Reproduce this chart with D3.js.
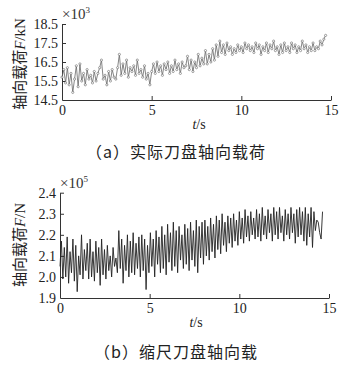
<!DOCTYPE html>
<html><head><meta charset="utf-8">
<script src="https://cdn.jsdelivr.net/npm/d3@7"></script>
<style>
html,body{margin:0;padding:0;background:#fff;}
svg{display:block;}
</style></head>
<body>
<svg id="c" width="347" height="365"></svg>
<script>
// ---- data ----
const xTicks = [0, 5, 10, 15];
const topYTicks = [14.5, 15.5, 16.5, 17.5, 18.5];
const botYTicks = [1.9, 2.0, 2.1, 2.2, 2.3, 2.4];
const topStep = 0.1;   // s between samples (a)
const botStep = 0.08;  // s between samples (b)
const topValues = [
 15.7,16.1,15.4,16.2,15.3,15.9,14.9,15.6,16.3,15.2,
 16.4,15.5,15.9,15.3,16.1,15.6,15.8,15.4,16.0,15.5,
 15.9,16.2,16.6,15.6,15.8,15.3,16.0,15.5,16.1,15.7,
 15.6,16.2,16.9,15.8,16.4,15.9,16.6,15.7,16.2,16.0,
 16.3,15.8,16.6,15.9,16.1,15.7,16.3,15.6,15.9,15.3,
 16.0,16.4,15.9,16.5,16.0,16.3,15.8,16.4,16.1,16.5,
 15.9,16.3,16.0,16.6,16.1,16.4,15.9,16.5,16.2,16.3,
 16.8,16.1,16.6,16.0,16.5,16.2,16.9,16.3,16.7,16.4,
 17.1,16.4,16.9,16.5,17.2,16.6,17.4,16.8,17.6,17.0,
 17.4,16.9,17.5,17.1,17.3,16.9,17.2,17.0,17.4,17.1,
 17.3,17.0,17.5,17.2,17.4,17.1,17.3,17.0,17.5,17.2,
 17.4,16.9,17.3,17.1,17.5,17.0,17.4,17.2,17.6,17.1,
 17.3,16.9,17.4,17.0,17.5,17.1,17.3,17.0,17.5,17.2,
 17.4,17.0,17.3,17.1,17.6,17.2,17.4,17.0,17.3,17.1,
 17.5,17.1,17.3,17.2,17.6,17.4,17.7,17.9
];
const botValues = [
 2.05,2.17,1.99,2.14,2.00,2.19,1.97,2.12,2.02,2.18,
 1.98,2.15,1.93,2.10,2.01,2.20,1.99,2.13,2.03,2.16,
 1.99,2.18,2.00,2.12,1.98,2.17,2.02,2.14,1.96,2.18,
 2.01,2.13,1.99,2.15,2.03,2.10,2.00,2.14,2.05,2.09,
 2.02,2.22,2.04,2.18,1.97,2.15,2.03,2.20,2.00,2.17,
 2.02,2.21,2.01,2.16,2.04,2.19,2.00,2.20,2.03,2.18,
 1.94,2.15,2.02,2.21,2.05,2.18,2.00,2.22,2.06,2.19,
 2.02,2.24,2.04,2.20,2.01,2.25,2.07,2.21,2.03,2.26,
 2.05,2.22,2.02,2.24,2.08,2.20,2.04,2.25,2.06,2.23,
 2.03,2.26,2.08,2.22,2.05,2.27,2.02,2.24,2.09,2.26,
 2.06,2.27,2.10,2.24,2.08,2.28,2.12,2.25,2.09,2.29,
 2.13,2.27,2.11,2.30,2.15,2.26,2.12,2.29,2.16,2.28,
 2.14,2.30,2.17,2.27,2.15,2.31,2.18,2.28,2.16,2.32,
 2.19,2.29,2.17,2.31,2.20,2.28,2.18,2.32,2.19,2.30,
 2.17,2.33,2.20,2.29,2.18,2.32,2.21,2.30,2.17,2.33,
 2.20,2.31,2.18,2.33,2.21,2.29,2.17,2.32,2.20,2.30,
 2.18,2.33,2.21,2.30,2.16,2.32,2.19,2.33,2.20,2.31,
 2.17,2.33,2.15,2.30,2.19,2.33,2.14,2.31,2.22,2.27,
 2.26,2.21,2.18,2.31
];

const svg = d3.select("#c");
const serif = "'Liberation Serif','DejaVu Serif',serif";
const cjk = "'Noto Sans CJK SC','Noto Sans',sans-serif";
const axisColor = "#333";

function panel(o){
  const x = d3.scaleLinear().domain([0,15]).range([o.x0,o.x1]);
  const y = d3.scaleLinear().domain(o.yDomain).range([o.y0,o.y1]);
  const g = svg.append("g");
  // x axis
  const xa = g.append("g").attr("transform",`translate(0,${o.y0})`)
    .call(d3.axisBottom(x).tickValues(xTicks).tickSizeInner(-4).tickSizeOuter(0).tickPadding(5).tickFormat(d3.format("d")));
  // y axis
  const ya = g.append("g").attr("transform",`translate(${o.x0},0)`)
    .call(d3.axisLeft(y).tickValues(o.yTicks).tickSizeInner(-4).tickSizeOuter(0).tickPadding(4).tickFormat(d3.format(".1f")));
  [xa,ya].forEach(a=>{
    a.select(".domain").attr("stroke",axisColor).attr("stroke-width",1);
    a.selectAll(".tick line").attr("stroke",axisColor);
    a.selectAll(".tick text").attr("fill","#222").style("font-family",serif).style("font-size","14px");
  });
  xa.selectAll(".tick").filter(d=>d===0).select("line").remove();
  ya.selectAll(".tick").filter(d=>d===o.yDomain[0]).select("line").remove();
  // data line
  const line = d3.line().x((d,i)=>x(i*o.step)).y(d=>y(d));
  g.append("path").datum(o.values).attr("fill","none")
    .attr("stroke",o.color).attr("stroke-width",o.sw).attr("stroke-linejoin","round").attr("d",line);
  if(o.markers){
    g.selectAll("circle.m").data(o.values).enter().append("circle")
      .attr("cx",(d,i)=>x(i*o.step)).attr("cy",d=>y(d)).attr("r",1.1)
      .attr("fill","#fff").attr("stroke",o.color).attr("stroke-width",0.6);
  }
  // exponent label
  const ex = g.append("text").attr("x",o.x0).attr("y",o.y1-5)
    .style("font-family",serif).style("font-size","15px").attr("fill","#333");
  ex.append("tspan").text("×10");
  ex.append("tspan").attr("dy",-6).style("font-size","9px").text(o.exp);
  // y title
  const yt = g.append("text").attr("transform",`translate(${o.ytx},${o.yty}) rotate(-90)`)
    .attr("text-anchor","middle").attr("fill","#222").style("font-size","15px");
  yt.append("tspan").style("font-family",cjk).text("轴向载荷");
  yt.append("tspan").style("font-family",serif).style("font-style","italic").text("F");
  yt.append("tspan").style("font-family",serif).text(o.unit);
  // x title
  const xt = g.append("text").attr("x",o.xtx).attr("y",o.xty).attr("text-anchor","middle")
    .attr("fill","#222").style("font-family",serif).style("font-size","14px");
  xt.append("tspan").style("font-style","italic").text("t");
  xt.append("tspan").text("/s");
  // caption
  g.append("text").attr("x",o.capx).attr("y",o.capy).attr("text-anchor","middle")
    .attr("fill","#222").style("font-family",cjk).style("font-size","16px")
    .style("letter-spacing","1px").text(o.caption);
}

panel({x0:62,x1:331,y0:100,y1:24,yDomain:[14.5,18.5],yTicks:topYTicks,
  values:topValues,step:topStep,color:"#666",sw:0.8,markers:true,exp:"3",
  ytx:25,yty:64,unit:"/kN",xtx:199,xty:129,capx:176,capy:158,caption:"（a）实际刀盘轴向载荷"});
panel({x0:60,x1:329,y0:298,y1:192.7,yDomain:[1.9,2.4],yTicks:botYTicks,
  values:botValues,step:botStep,color:"#222",sw:0.9,markers:false,exp:"5",
  ytx:25,yty:245,unit:"/N",xtx:196,xty:327,capx:176,capy:358,caption:"（b）缩尺刀盘轴向载"});
</script>
</body></html>
